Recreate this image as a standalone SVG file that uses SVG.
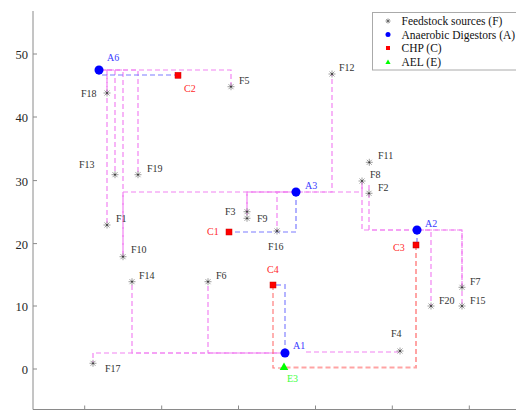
<svg xmlns="http://www.w3.org/2000/svg" xmlns:xlink="http://www.w3.org/1999/xlink" width="516" height="412" viewBox="0 0 516 412">
<defs>
<style>
.ax{stroke:#8a8a8a;stroke-width:1;fill:none}
.tk{font-family:"Liberation Serif","Times New Roman",serif;font-size:12.5px;fill:#262626;text-anchor:end}
.lb{font-family:"Liberation Serif","Times New Roman",serif;font-size:10px;fill:#333}
.la{fill:#3a3aff}.lc{fill:#ff2a2a}.le{fill:#3cff3c}
.fm{stroke:#f284f2;stroke-width:1.2;fill:none;stroke-dasharray:5 3}
.bl{stroke:#7c7cff;stroke-width:1.2;fill:none;stroke-dasharray:5 3}
.bl2{stroke:#b4b4ff;stroke-width:2;fill:none;stroke-dasharray:5 3}
.rd{stroke:#ff7c7c;stroke-width:1.2;fill:none;stroke-dasharray:5 3}
.rd2{stroke:#ffa4a4;stroke-width:2;fill:none;stroke-dasharray:5 3}
.lg{font-family:"Liberation Serif","Times New Roman",serif;font-size:11.5px;fill:#111}
</style>
<g id="star">
<path d="M-3.5,0H3.5M0,-3.5V3.5M-2.5,-2.5L2.5,2.5M-2.5,2.5L2.5,-2.5" stroke="#858585" stroke-width="0.8" fill="none"/>
<circle r="0.9" fill="#333"/>
</g>
</defs>
<rect width="516" height="412" fill="#fff"/>
<g id="axes">
<path class="ax" d="M33,11V409.5H516"/>
<path class="ax" d="M33,54H37M33,117H37M33,180.6H37M33,243.6H37M33,306H37M33,369H37"/>
<path class="ax" d="M84.7,409.5V405.5M161.7,409.5V405.5M238.5,409.5V405.5M315.5,409.5V405.5M392.3,409.5V405.5M469.3,409.5V405.5"/>
<text class="tk" x="28" y="59">50</text>
<text class="tk" x="28" y="122">40</text>
<text class="tk" x="28" y="185.5">30</text>
<text class="tk" x="28" y="248.5">20</text>
<text class="tk" x="28" y="310.5">10</text>
<text class="tk" x="28" y="373.5">0</text>
</g>
<g id="connectors">
<path class="fm" d="M99,70H231V87"/>
<path class="fm" d="M99,70H107V93"/>
<path class="fm" d="M103,70H107V225"/>
<path class="fm" d="M99,70H115V175"/>
<path class="fm" d="M101,70H123V257"/>
<path class="fm" d="M99,70H138V175"/>
<path class="fm" d="M296,192H123V257"/>
<path class="fm" d="M296,192H247V212"/>
<path class="fm" d="M293,192H247V218"/>
<path class="fm" d="M296,192H277V231"/>
<path class="fm" d="M296,192H332V74"/>
<path class="fm" d="M298,192H362V181"/>
<path class="fm" d="M417,230H362V181"/>
<path class="fm" d="M417,230H369V183"/>
<path class="fm" d="M417,230H431V306"/>
<path class="fm" d="M417,230H462V287"/>
<path class="fm" d="M419,230H462V306"/>
<path class="fm" d="M285,353H93V363"/>
<path class="fm" d="M285,353H132V282"/>
<path class="fm" d="M282,353H208V282"/>
<path class="fm" d="M306,352H400"/>
<path class="bl" d="M99,70V75H178"/>
<path class="bl" d="M296,192V232H229"/>
<path class="bl" d="M417,230V245"/>
<path class="bl2" d="M285,353V285H273"/>
<path class="rd2" d="M416,245V367.5H284"/>
<path class="rd" d="M273,285V368H284"/>
</g>
<g id="F5"><use href="#star" x="231" y="86.7"/><text class="lb" x="239" y="84">F5</text></g>
<g id="F18"><use href="#star" x="107" y="93"/><text class="lb" x="81" y="96.5">F18</text></g>
<g id="F13"><use href="#star" x="115" y="174.7"/><text class="lb" x="79" y="167.5">F13</text></g>
<g id="F19"><use href="#star" x="138" y="174.7"/><text class="lb" x="147" y="171.5">F19</text></g>
<g id="F1"><use href="#star" x="107" y="225"/><text class="lb" x="116" y="221.5">F1</text></g>
<g id="F10"><use href="#star" x="123" y="256.7"/><text class="lb" x="131" y="252.5">F10</text></g>
<g id="F3"><use href="#star" x="247" y="211.7"/><text class="lb" x="225" y="214.5">F3</text></g>
<g id="F9"><use href="#star" x="247" y="218.3"/><text class="lb" x="257" y="221.5">F9</text></g>
<g id="F16"><use href="#star" x="277" y="231"/><text class="lb" x="268" y="249.5">F16</text></g>
<g id="F12"><use href="#star" x="332" y="74"/><text class="lb" x="339" y="70.5">F12</text></g>
<g id="F11"><use href="#star" x="369.3" y="162.3"/><text class="lb" x="378" y="158.5">F11</text></g>
<g id="F8"><use href="#star" x="362" y="181"/><text class="lb" x="370" y="177.5">F8</text></g>
<g id="F2"><use href="#star" x="369" y="193.3"/><text class="lb" x="378" y="190.5">F2</text></g>
<g id="F7"><use href="#star" x="462" y="287.3"/><text class="lb" x="470" y="284.5">F7</text></g>
<g id="F15"><use href="#star" x="462" y="306"/><text class="lb" x="470" y="303.5">F15</text></g>
<g id="F20"><use href="#star" x="431" y="306"/><text class="lb" x="439" y="303.5">F20</text></g>
<g id="F14"><use href="#star" x="132" y="281.7"/><text class="lb" x="139" y="278.5">F14</text></g>
<g id="F6"><use href="#star" x="208" y="281.7"/><text class="lb" x="216" y="278.5">F6</text></g>
<g id="F17"><use href="#star" x="93" y="363.3"/><text class="lb" x="105" y="371.5">F17</text></g>
<g id="F4"><use href="#star" x="400" y="351"/><text class="lb" x="391" y="336.5">F4</text></g>
<g id="A6"><circle cx="99" cy="70" r="4.5" fill="#0000ff"/><text class="lb la" x="107" y="61">A6</text></g>
<g id="A3"><circle cx="296" cy="192" r="4.5" fill="#0000ff"/><text class="lb la" x="305" y="188.5">A3</text></g>
<g id="A2"><circle cx="417" cy="230" r="4.5" fill="#0000ff"/><text class="lb la" x="425" y="226.5">A2</text></g>
<g id="A1"><circle cx="285" cy="353" r="4.5" fill="#0000ff"/><text class="lb la" x="293" y="348.5">A1</text></g>
<g id="C2"><rect x="175" y="72.3" width="6" height="6" fill="#ff0000" stroke="#cc0000" stroke-width="0.5"/><text class="lb lc" x="184" y="91.5">C2</text></g>
<g id="C1"><rect x="226" y="229" width="6" height="6" fill="#ff0000" stroke="#cc0000" stroke-width="0.5"/><text class="lb lc" x="207" y="234.5">C1</text></g>
<g id="C3"><rect x="413" y="242" width="6" height="6" fill="#ff0000" stroke="#aa0000" stroke-width="0.5"/><text class="lb lc" x="393" y="250.5">C3</text></g>
<g id="C4"><rect x="270" y="282" width="6" height="6" fill="#ff0000" stroke="#cc0000" stroke-width="0.5"/><text class="lb lc" x="267" y="272.5">C4</text></g>
<g id="E3"><path d="M284,362.5L288.3,370H279.7Z" fill="#00ff00"/><text class="lb le" x="287" y="381.5">E3</text></g>
<g id="legend">
<rect x="372.5" y="12.5" width="160" height="57.5" fill="#fff" stroke="#aaa" stroke-width="1"/>
<path d="M385.5,21H390.5M388,18.5V23.5M386.3,19.3L389.7,22.7M386.3,22.7L389.7,19.3" stroke="#555" stroke-width="0.7"/>
<circle cx="388" cy="34.5" r="2.5" fill="#0000ff"/>
<rect x="386" y="46" width="4" height="4" fill="#ff0000"/>
<path d="M388,59.5L390.6,64H385.4Z" fill="#00ff00"/>
<text class="lg" x="401.5" y="25">Feedstock sources (F)</text>
<text class="lg" x="401.5" y="38.5">Anaerobic Digestors (A)</text>
<text class="lg" x="401.5" y="52">CHP (C)</text>
<text class="lg" x="401.5" y="66">AEL (E)</text>
</g>
</svg>
